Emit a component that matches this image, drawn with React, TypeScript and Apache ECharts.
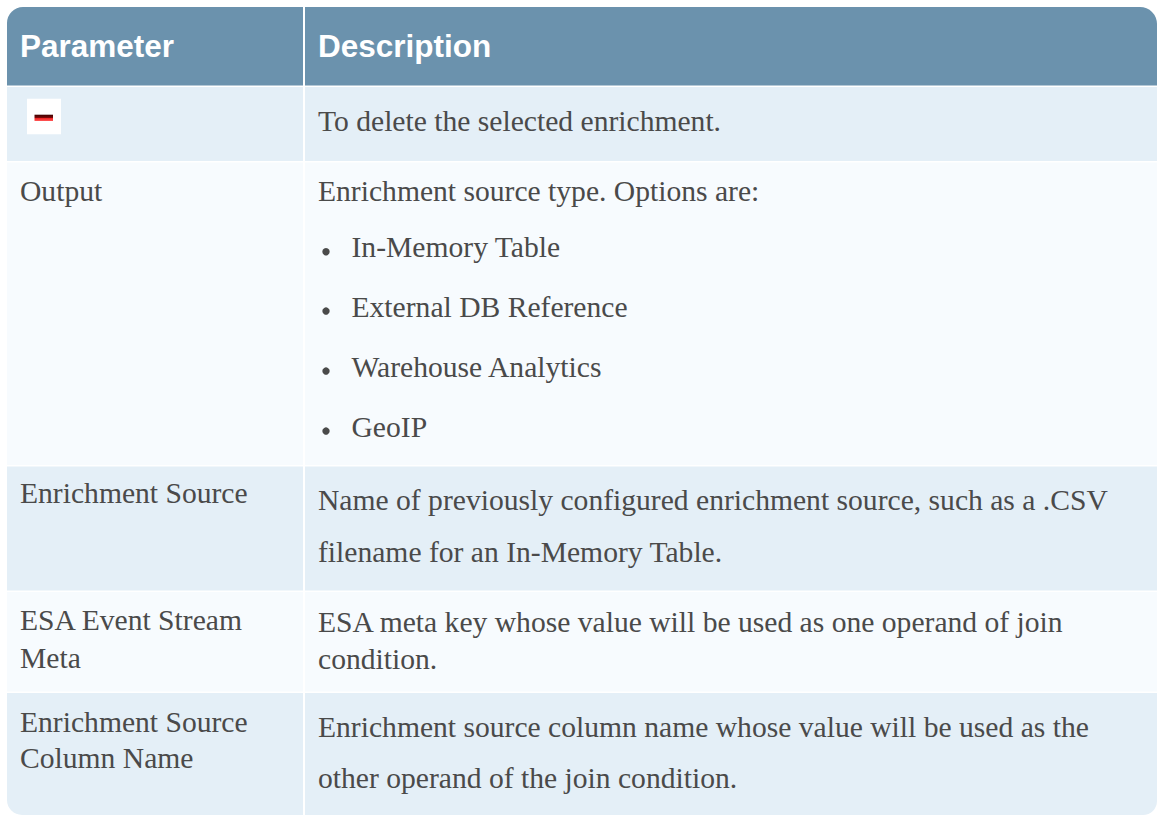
import React, { useEffect, useRef } from "react";
import * as echarts from "echarts";

// ---- Data ----
const headers = ["Parameter", "Description"];
const parameters = [
  [],
  ["Output"],
  ["Enrichment Source"],
  ["ESA Event Stream", "Meta"],
  ["Enrichment Source", "Column Name"],
];
const descriptions = [
  ["To delete the selected enrichment."],
  ["Enrichment source type. Options are:"],
  [
    "Name of previously configured enrichment source, such as a .CSV",
    "filename for an In-Memory Table.",
  ],
  ["ESA meta key whose value will be used as one operand of join", "condition."],
  ["Enrichment source column name whose value will be used as the", "other operand of the join condition."],
];
const options = ["In-Memory Table", "External DB Reference", "Warehouse Analytics", "GeoIP"];

// ---- Layout (pixels) ----
const W = 1157;
const H = 816;
const L = 7;
const R = 1157;
const COL = 303;
const COL2 = 305;
const rowTops = [7, 87, 162.5, 466.5, 592, 693];
const rowBottoms = [85.5, 161, 465, 590.5, 691.5, 815];
const paramBaselines = [[], [201], [503.3], [630, 668.3], [731.7, 768.3]];
const descBaselines = [[131], [201], [510, 561.7], [631.7, 669.3], [736.7, 788.3]];
const optionBaselines = [257.3, 316.7, 376.7, 436.7];

const HEADER = "#6b92ad";
const ROW_A = "#e4eff7";
const ROW_B = "#f7fbfe";
const TEXT = "#4a4a4a";
const SERIF = "Liberation Serif";
const SANS = "Liberation Sans";
const FS = 29.6;
const HFS = 31.5;
const mid = (b: number, fs: number, k = 0.3375) => b - k * fs;

function bodyText(x: number, baseline: number, t: string) {
  return {
    type: "text",
    x,
    y: mid(baseline, FS),
    style: {
      text: t,
      fill: TEXT,
      fontFamily: SERIF,
      fontSize: FS,
      fontWeight: "normal",
      verticalAlign: "middle",
      align: "left",
    },
  };
}

function buildGraphics() {
  const els: any[] = [];
  const last = rowTops.length - 1;
  rowTops.forEach((top, i) => {
    const h = rowBottoms[i] - top;
    const fill = i === 0 ? HEADER : i % 2 === 1 ? ROW_A : ROW_B;
    const rl = i === 0 ? [16, 0, 0, 0] : i === last ? [0, 0, 0, 15] : 0;
    const rr = i === 0 ? [0, 17, 0, 0] : i === last ? [0, 0, 14, 0] : 0;
    els.push({ type: "rect", shape: { x: L, y: top, width: COL - L, height: h, r: rl }, style: { fill } });
    els.push({ type: "rect", shape: { x: COL2, y: top, width: R - COL2, height: h, r: rr }, style: { fill } });
  });
  // header texts
  headers.forEach((t, k) => {
    els.push({
      type: "text",
      x: k === 0 ? 20 : 318,
      y: mid(57.3, HFS, 0.3465),
      style: {
        text: t,
        fill: "#ffffff",
        fontFamily: SANS,
        fontSize: HFS,
        fontWeight: "bold",
        verticalAlign: "middle",
        align: "left",
      },
    });
  });
  // delete icon
  els.push({ type: "rect", shape: { x: 27, y: 98.7, width: 34, height: 35.6 }, style: { fill: "#ffffff" } });
  els.push({
    type: "rect",
    shape: { x: 34.5, y: 114.7, width: 18.5, height: 6.3 },
    style: {
      fill: new echarts.graphic.LinearGradient(0, 0, 0, 1, [
        { offset: 0, color: "#3a0000" },
        { offset: 0.45, color: "#7a0808" },
        { offset: 0.55, color: "#ee2020" },
        { offset: 1, color: "#ff5858" },
      ]),
    },
  });
  parameters.forEach((lines, i) => {
    lines.forEach((t, j) => els.push(bodyText(20, paramBaselines[i][j], t)));
  });
  descriptions.forEach((lines, i) => {
    lines.forEach((t, j) => els.push(bodyText(318, descBaselines[i][j], t)));
  });
  options.forEach((t, k) => {
    const b = optionBaselines[k];
    els.push({ type: "circle", shape: { cx: 326, cy: b - 5.6, r: 3.7 }, style: { fill: TEXT } });
    els.push(bodyText(351.5, b, t));
  });
  return els;
}

export default function App() {
  const ref = useRef<HTMLDivElement>(null);
  useEffect(() => {
    if (!ref.current) return;
    const chart = echarts.init(ref.current, undefined, { renderer: "svg" });
    chart.setOption({
      animation: false,
      backgroundColor: "#ffffff",
      graphic: { elements: buildGraphics() },
    });
    return () => chart.dispose();
  }, []);
  return (
    <div
      ref={ref}
      style={{ position: "absolute", left: 0, top: 0, width: W, height: H, background: "#fff" }}
    />
  );
}
